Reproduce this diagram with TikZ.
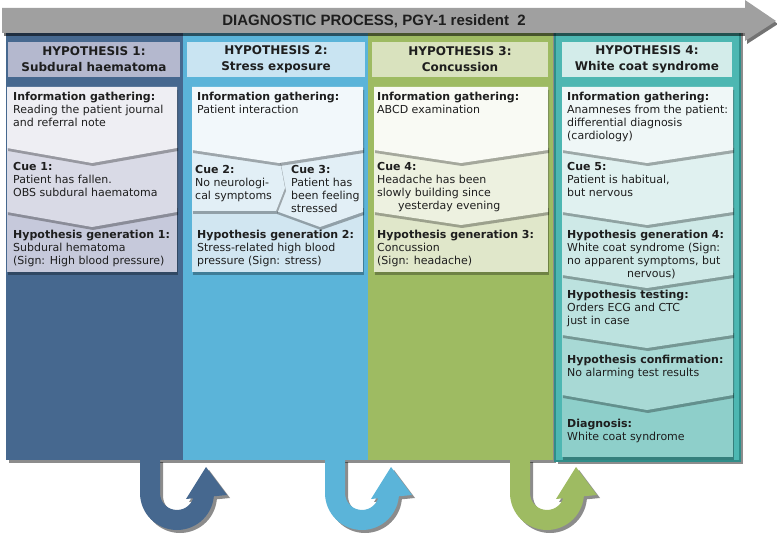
\documentclass[tikz,border=0pt]{standalone}
\usepackage{fontspec}
\setmainfont{DejaVu Sans}
\newfontfamily\titlefont{Liberation Sans}
\usepackage{tikz}
\usetikzlibrary{shadows}

\definecolor{txtcol}{HTML}{1E1E1E}
\definecolor{arrowgray}{HTML}{A0A0A0}
% column colours
\definecolor{colA}{HTML}{46688F}
\definecolor{colB}{HTML}{5BB4D9}
\definecolor{colC}{HTML}{9EBB62}
\definecolor{colD}{HTML}{4DB7B2}
\definecolor{colDline}{HTML}{2F8D89}
% header colours
\definecolor{hdrA}{HTML}{B4B8CE}
\definecolor{hdrB}{HTML}{C9E4F2}
\definecolor{hdrC}{HTML}{D9E2BE}
\definecolor{hdrD}{HTML}{D3ECEA}
% panel colours
\definecolor{pA1}{HTML}{EEEEF3}
\definecolor{pA2}{HTML}{D9DAE6}
\definecolor{pA3}{HTML}{C6C9DB}
\definecolor{pB1}{HTML}{F2F8FB}
\definecolor{pB2}{HTML}{E2EFF6}
\definecolor{pB3}{HTML}{D1E6F1}
\definecolor{pC1}{HTML}{F9FAF4}
\definecolor{pC2}{HTML}{EDF1E0}
\definecolor{pC3}{HTML}{E0E7CA}
\definecolor{pD1}{HTML}{EFF7F7}
\definecolor{pD2}{HTML}{E0F1F0}
\definecolor{pD3}{HTML}{CEE9E7}
\definecolor{pD4}{HTML}{BCE2DF}
\definecolor{pD5}{HTML}{A8D9D5}
\definecolor{pD6}{HTML}{8ECFCA}

\begin{document}
\begin{tikzpicture}[x=1pt, y=-1pt,
    colbox/.style={drop shadow={shadow xshift=3pt, shadow yshift=-3pt, opacity=.45, fill=black}},
    panel/.style={drop shadow={shadow xshift=1pt, shadow yshift=-3pt, opacity=.3, fill=black}},
    hdrbox/.style={minimum height=35pt, inner sep=0pt, align=center, text=txtcol,
                   font=\fontsize{12}{16}\selectfont\bfseries},
    txt/.style={anchor=north west, inner sep=0pt, align=left, text=txtcol,
                font=\fontsize{11}{13}\selectfont},
  ]
    \useasboundingbox (0,0) rectangle (777,540);

    % columns
    \fill[colA, colbox] (6,30) rectangle (183,460);
    \fill[colB, colbox] (183,30) rectangle (368,460);
    \fill[colC, colbox] (368,30) rectangle (553,460);
    \filldraw[fill=colD, draw=colDline, line width=2pt, colbox] (555,30) rectangle (740,461);

    % headers
    \node[hdrbox, fill=hdrA, minimum width=172pt] (hyp1) at (94,59.5) {HYPOTHESIS 1:\\Subdural haematoma};
    \node[hdrbox, fill=hdrB, minimum width=178pt] (hyp2) at (276,59.5) {HYPOTHESIS 2:\\Stress exposure};
    \node[hdrbox, fill=hdrC, minimum width=176pt] (hyp3) at (460,59.5) {HYPOTHESIS 3:\\Concussion};
    \node[hdrbox, fill=hdrD, minimum width=170pt] (hyp4) at (647,59.5) {HYPOTHESIS 4:\\White coat syndrome};

    % hypothesis 1
    \fill[pA3, panel] (7,205) rectangle (177,272);
    \fill[pA2, panel] (7,145) -- (177,145) -- (177,212) -- (92,227) -- (7,212) -- cycle;
    \fill[pA1, panel] (7,87) -- (177,87) -- (177,148) -- (92,163) -- (7,148) -- cycle;
    \node[txt] (info1) at (13,92) {\textbf{Information gathering:}\\Reading the patient journal\\and referral note};
    \node[txt] (cue1) at (13,162) {\textbf{Cue 1:}\\Patient has fallen.\\OBS subdural haematoma};
    \node[txt] (gen1) at (13,230) {\textbf{Hypothesis generation 1:}\\Subdural hematoma\\(Sign: High blood pressure)};

    % hypothesis 2
    \fill[pB3, panel] (192,205) rectangle (363,272);
    \fill[pB2, panel] (276,145) -- (363,145) -- (363,212) -- (320,227) -- (276,211) -- cycle;
    \fill[pB2, panel] (192,145) -- (277,145) -- (285,188) -- (276,211) -- (192,211) -- cycle;
    \fill[pB1, panel] (192,87) -- (363,87) -- (363,150) -- (279,163) -- (192,150) -- cycle;
    \node[txt] (info2) at (197,92) {\textbf{Information gathering:}\\Patient interaction};
    \node[txt] (cue2) at (195,165) {\textbf{Cue 2:}\\No neurologi-\\cal symptoms};
    \node[txt] (cue3) at (291,165) {\textbf{Cue 3:}\\Patient has\\been feeling\\stressed};
    \node[txt] (gen2) at (197,230) {\textbf{Hypothesis generation 2:}\\Stress-related high blood\\pressure (Sign: stress)};

    % hypothesis 3
    \fill[pC3, panel] (374,205) rectangle (548,272);
    \fill[pC2, panel] (374,145) -- (548,145) -- (548,212) -- (461,225) -- (374,212) -- cycle;
    \fill[pC1, panel] (374,87) -- (548,87) -- (548,150) -- (461,163) -- (374,150) -- cycle;
    \node[txt] (info3) at (377,92) {\textbf{Information gathering:}\\ABCD examination};
    \node[txt] (cue4) at (377,162) {\textbf{Cue 4:}\\Headache has been\\slowly building since\\\hspace*{21pt}yesterday evening};
    \node[txt] (gen3) at (377,230) {\textbf{Hypothesis generation 3:}\\Concussion\\(Sign: headache)};

    % hypothesis 4
    \fill[pD6, panel] (562,390) rectangle (733,457);
    \fill[pD5, panel] (562,330) -- (733,330) -- (733,395) -- (647,410) -- (562,395) -- cycle;
    \fill[pD4, panel] (562,270) -- (733,270) -- (733,335) -- (647,348) -- (562,335) -- cycle;
    \fill[pD3, panel] (562,205) -- (733,205) -- (733,275) -- (647,288) -- (562,275) -- cycle;
    \fill[pD2, panel] (562,145) -- (733,145) -- (733,212) -- (647,225) -- (562,212) -- cycle;
    \fill[pD1, panel] (562,87) -- (733,87) -- (733,150) -- (647,163) -- (562,150) -- cycle;
    \node[txt] (info4) at (567,92) {\textbf{Information gathering:}\\Anamneses from the patient:\\differential diagnosis\\(cardiology)};
    \node[txt] (cue5) at (567,162) {\textbf{Cue 5:}\\Patient is habitual,\\but nervous};
    \node[txt] (gen4) at (567,230) {\textbf{Hypothesis generation 4:}\\White coat syndrome (Sign:\\no apparent symptoms, but\\\hspace*{60pt}nervous)};
    \node[txt] (test4) at (567,290) {\textbf{Hypothesis testing:}\\Orders ECG and CTC\\just in case};
    \node[txt] (conf4) at (567,355) {\textbf{Hypothesis confirmation:}\\No alarming test results};
    \node[txt] (diag4) at (567,419) {\textbf{Diagnosis:}\\White coat syndrome};

    % turn-back arrows below the columns
    \foreach \dx/\cc in {0/colA, 185/colB, 370/colC} {
      \begin{scope}[xshift=\dx]
        \fill[\cc, drop shadow={shadow xshift=3pt, shadow yshift=-3pt, opacity=.45, fill=black}]
          (140,459) -- (140,493) arc[start angle=180, end angle=360, radius=37pt]
          -- (214,490) -- (194,490) -- (194,493) arc[start angle=360, end angle=180, radius=17pt]
          -- (160,459) -- cycle
          (227,495) -- (206,467) -- (186,499) -- cycle;
      \end{scope}
    }

    % process arrow
    \fill[arrowgray, drop shadow={shadow xshift=2pt, shadow yshift=-3pt, opacity=.55, fill=black}]
      (2,8) -- (745,8) -- (745,0) -- (776,21) -- (745,41) -- (745,33) -- (2,33) -- cycle;
    \node[font=\titlefont\bfseries\fontsize{15}{18}\selectfont, text=txtcol] (title) at (374,21) {DIAGNOSTIC PROCESS, PGY-1 resident\ \ 2};
\end{tikzpicture}
\end{document}
